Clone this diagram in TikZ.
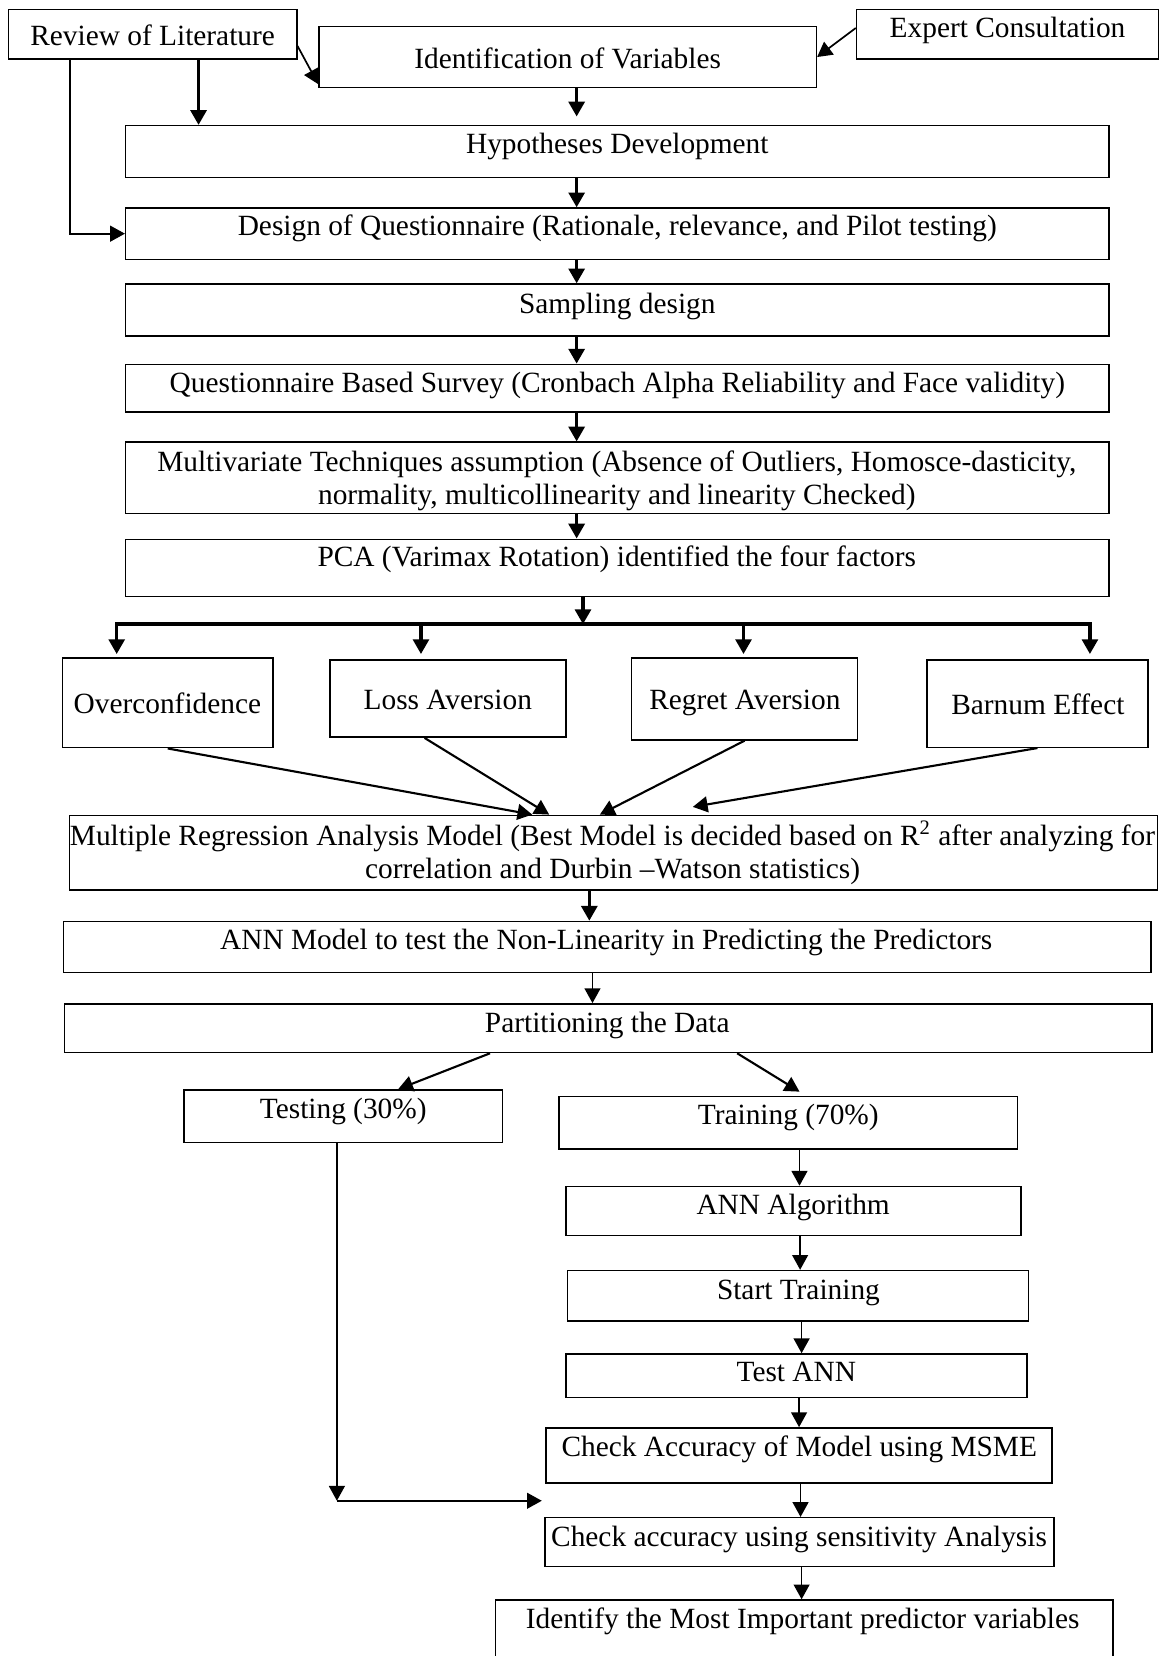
\documentclass[tikz,border=0pt]{standalone}
\usepackage{fontspec}
\setmainfont{Liberation Serif}
\usetikzlibrary{arrows.meta,fit}
\begin{document}
\begin{tikzpicture}[x=0.5pt,y=-0.5pt,
  bx/.style={draw, line width=0.7pt, inner sep=0pt, rectangle},
  txt/.style={anchor=base, inner sep=0pt, font=\fontsize{13.9}{16.4}\selectfont},
  thk/.style={line width=1.6pt, -{Triangle[length=7pt,width=7.5pt]}},
  thn/.style={line width=0.8pt, -{Triangle[length=7pt,width=7.5pt]}},
  medarr/.style={line width=1pt, -{Triangle[length=7pt,width=7.5pt]}},
]
\useasboundingbox (0,0) rectangle (1101,1568);

% ---------- boxes ----------
\node[bx, fit={(8,9) (281,56)}] (rev) {};
\node[txt] (revt) at (144.5,43) {Review of Literature};
\node[bx, fit={(302,25) (773,83)}] (ident) {};
\node[txt] (identt) at (537.5,65) {Identification of Variables};
\node[bx, fit={(811,9) (1097,56)}] (expert) {};
\node[txt] (expertt) at (954,35.5) {Expert Consultation};

\node[bx, fit={(119,119) (1050,168)}] (hyp) {};
\node[txt] (hypt) at (584.5,145.5) {Hypotheses Development};
\node[bx, fit={(119,197) (1050,245.5)}] (design) {};
\node[txt] (designt) at (584.5,223) {Design of Questionnaire (Rationale, relevance, and Pilot testing)};
\node[bx, fit={(119,269) (1050,318)}] (samp) {};
\node[txt] (sampt) at (584.5,296.5) {Sampling design};
\node[bx, fit={(119,345) (1050,390)}] (surv) {};
\node[txt] (survt) at (584.5,372) {Questionnaire Based Survey (Cronbach Alpha Reliability and Face validity)};
\node[bx, fit={(119,418.7) (1050,486)}] (multi) {};
\node[txt] (multita) at (584,446.5) {Multivariate Techniques assumption (Absence of Outliers, Homosce-dasticity,};
\node[txt] (multitb) at (584,478) {normality, multicollinearity and linearity Checked)};
\node[bx, fit={(119,510.6) (1050,565)}] (pca) {};
\node[txt] (pcat) at (584,536.5) {PCA (Varimax Rotation) identified the four factors};

\node[bx, fit={(59,623) (258.6,708)}] (over) {};
\node[txt] (overt) at (158.5,675.3) {Overconfidence};
\node[bx, fit={(312.6,625) (536,698)}] (loss) {};
\node[txt] (losst) at (424,672) {Loss Aversion};
\node[bx, fit={(598,623) (812,700.6)}] (regret) {};
\node[txt] (regrett) at (705.3,671.5) {Regret Aversion};
\node[bx, fit={(877.6,625) (1087,707.6)}] (barnum) {};
\node[txt] (barnumt) at (982.7,676.2) {Barnum Effect};

\node[bx, fit={(66,772) (1096,842.6)}] (mr) {};
\node[txt] (mrta) at (580,801) {Multiple Regression Analysis Model (Best Model is decided based on R\textsuperscript{2} after analyzing for};
\node[txt] (mrtb) at (580,831.5) {correlation and Durbin –Watson statistics)};
\node[bx, fit={(60,872.5) (1090,921)}] (annm) {};
\node[txt] (annmt) at (574,898.7) {ANN Model to test the Non-Linearity in Predicting the Predictors};
\node[bx, fit={(61,950.5) (1090.6,996.6)}] (part) {};
\node[txt] (partt) at (575,977.6) {Partitioning the Data};

\node[bx, fit={(174,1032) (475.7,1082)}] (testing) {};
\node[txt] (testingt) at (325,1058.7) {Testing (30\%)};
\node[bx, fit={(529.5,1038) (963.6,1088)}] (training) {};
\node[txt] (trainingt) at (746.4,1065) {Training (70\%)};
\node[bx, fit={(536,1123.4) (966.6,1170)}] (annalg) {};
\node[txt] (annalgt) at (751,1150.3) {ANN Algorithm};
\node[bx, fit={(537.5,1203) (973.7,1250.6)}] (start) {};
\node[txt] (startt) at (756,1230.7) {Start Training};
\node[bx, fit={(536,1282) (972.6,1323)}] (testann) {};
\node[txt] (testannt) at (754,1308) {Test ANN};
\node[bx, fit={(517,1352) (996,1404)}] (msme) {};
\node[txt] (msmet) at (756.8,1379) {Check Accuracy of Model using MSME};
\node[bx, fit={(516,1437) (998,1483)}] (sens) {};
\node[txt] (senst) at (756.6,1464.3) {Check accuracy using sensitivity Analysis};
\node[bx, fit={(469,1515) (1054,1620)}] (identify) {};
\node[txt] (identifyt) at (760,1541.5) {Identify the Most Important predictor variables};

% ---------- connectors ----------
\draw[thk] (188,0 |- rev.south) -- (188,0 |- hyp.north);
\draw[thn] (66,0 |- rev.south) |- (design.west);
\draw[thn] ([yshift=-5.5pt]rev.east) -- ([yshift=2pt]ident.south west);
\draw[thn] ([yshift=3pt]expert.west) -- (ident.east);

\draw[thk, shorten >=4pt] (546,0 |- ident.south) -- (546,0 |- hyp.north);
\draw[thk] (546,0 |- hyp.south) -- (546,0 |- design.north);
\draw[thk] (546,0 |- design.south) -- (546,0 |- samp.north);
\draw[thk] (546,0 |- samp.south) -- (546,0 |- surv.north);
\draw[thk] (546,0 |- surv.south) -- (546,0 |- multi.north);
\draw[thk] (546,0 |- multi.south) -- (546,0 |- pca.north);

\coordinate (brL) at (110.5,591);
\coordinate (brR) at (1032,591);
\draw[thk] (552,0 |- pca.south) -- (552,0 |- brL);
\draw[line width=1.6pt, line cap=rect] (brL) -- (brR);
\draw[thk, shorten >=1.5pt] (brL) -- (brL |- over.north);
\draw[thk, shorten >=2.5pt] (398.6,0 |- brL) -- (398.6,0 |- loss.north);
\draw[thk, shorten >=1.5pt] (704,0 |- brL) -- (704,0 |- regret.north);
\draw[thk, shorten >=2.5pt] (brR) -- (brR |- barnum.north);

\coordinate (mrin) at (656,764);
\draw[medarr] (over.south) -- (504,0 |- mr.north);
\draw[medarr] (402,0 |- loss.south) -- (520,0 |- mr.north);
\draw[medarr] (regret.south) -- (568,0 |- mr.north);
\draw[medarr] (barnum.south) -- (mrin);

\draw[thk] (558,0 |- mr.south) -- (558,0 |- annm.north);
\draw[thn] (561,0 |- annm.south) -- (561,0 |- part.north);
\draw[medarr] (464,0 |- part.south) -- (377,0 |- testing.north);
\draw[medarr, shorten >=3.5pt] (698,0 |- part.south) -- (763,0 |- training.north);

\coordinate (tcorner) at (319,1421);
\coordinate (tend) at (513,1421);
\draw[thn] (319,0 |- testing.south) -- (tcorner);
\draw[thn] (tcorner) -- (tend);

\draw[thn] (757,0 |- training.south) -- (757,0 |- annalg.north);
\draw[thn] (757.6,0 |- annalg.south) -- (757.6,0 |- start.north);
\draw[thn] (759,0 |- start.south) -- (759,0 |- testann.north);
\draw[thn] (756.6,0 |- testann.south) -- (756.6,0 |- msme.north);
\draw[thn] (758,0 |- msme.south) -- (758,0 |- sens.north);
\draw[thn] (759,0 |- sens.south) -- (759,0 |- identify.north);
\end{tikzpicture}
\end{document}
